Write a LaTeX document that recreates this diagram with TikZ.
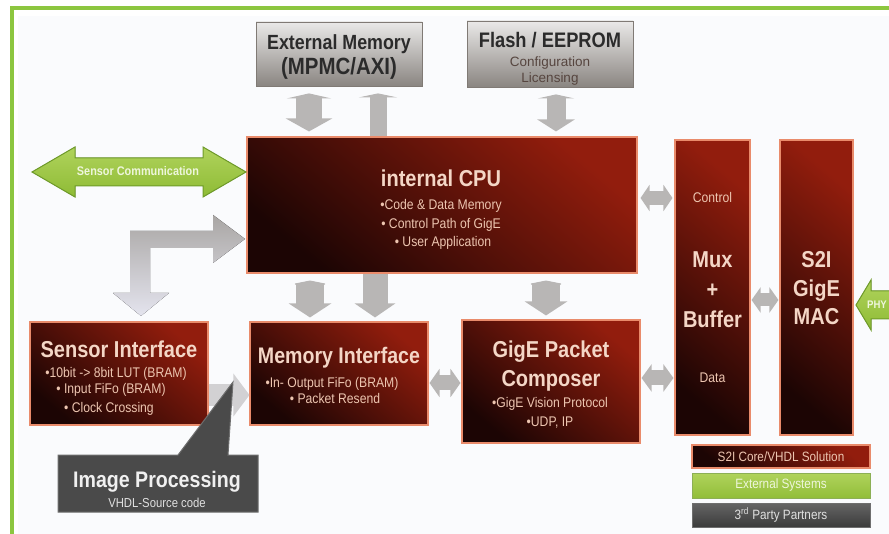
\documentclass[tikz,border=0pt]{standalone}
\usepackage{fontspec}
\setmainfont{Liberation Sans}
\newfontfamily\cf[FakeStretch=0.87]{Liberation Sans}
\usetikzlibrary{arrows.meta,calc}
\definecolor{frameg}{HTML}{8CC63F}
\definecolor{bgin}{HTML}{FAFBFD}
\definecolor{rdark}{HTML}{1C0504}
\definecolor{rmid}{HTML}{7A170B}
\definecolor{rred}{HTML}{921D0D}
\definecolor{rborder}{HTML}{E98B6B}
\definecolor{ttlc}{HTML}{F4D6C6}
\definecolor{bulc}{HTML}{EDC5B0}
\definecolor{glight}{HTML}{EAE9E8}
\definecolor{gdark}{HTML}{8A8581}
\definecolor{gborder}{HTML}{807A75}
\definecolor{gtext}{HTML}{2B2B2B}
\definecolor{gsubc}{HTML}{56453F}
\definecolor{arrowg}{HTML}{B8B6B5}
\definecolor{arrowl}{HTML}{D2D1D3}
\definecolor{lgtop}{HTML}{A9A6A4}
\definecolor{lgbot}{HTML}{E4E4EE}
\definecolor{greenA}{HTML}{B0D35C}
\definecolor{greenB}{HTML}{8EBB35}
\definecolor{greenD}{HTML}{6F9B2A}
\definecolor{greentxt}{HTML}{EEF6DC}
\definecolor{darkbox}{HTML}{4A4A4A}
\definecolor{darkedge}{HTML}{6E6E6E}
\begin{document}
\begin{tikzpicture}[x=1pt,y=-1pt,
  redbox/.style={draw=rborder, line width=1.1pt, left color=rdark, middle color=rmid, right color=rred, shading angle=140, inner sep=0pt},
  graybox/.style={draw=gborder, line width=0.8pt, top color=glight, bottom color=gdark, inner sep=0pt},
  ttl/.style={font=\cf\bfseries\fontsize{23}{23}\selectfont, text=ttlc, anchor=base, inner sep=0pt},
  bul/.style={font=\cf\fontsize{14}{14}\selectfont, text=bulc, anchor=base, inner sep=0pt},
  gttl/.style={font=\cf\bfseries\fontsize{21}{21}\selectfont, text=gtext, anchor=base, inner sep=0pt},
  gsub/.style={font=\fontsize{13.5}{13.5}\selectfont, text=gsubc, anchor=base, inner sep=0pt},
  garrow/.style={draw=arrowg, line width=#1},
]
\useasboundingbox (0,0) rectangle (889,534);
\fill[white] (0,0) rectangle (889,534);
\fill[bgin] (18,16) rectangle (889,534);
\draw[frameg, line width=3.6pt] (12,534) -- (12,8) -- (889,8);

% ---------- boxes ----------
\node[graybox, minimum width=166, minimum height=64] (extmem) at (339,54) {};
\node[graybox, minimum width=166, minimum height=66] (flash) at (550,54) {};
\node[redbox, minimum width=390, minimum height=136] (cpu) at (442,205) {};
\node[redbox, minimum width=178, minimum height=103] (sensif) at (119,373.5) {};
\node[redbox, minimum width=178, minimum height=103] (memif) at (339,373.5) {};
\node[redbox, minimum width=178, minimum height=123] (gige) at (551,381.5) {};
\node[redbox, minimum width=75, minimum height=295] (mux) at (712.5,287.5) {};
\node[redbox, minimum width=73, minimum height=295] (mac) at (816.5,287.5) {};

% ---------- texts ----------
\node[gttl, font=\cf\bfseries\fontsize{20.5}{20.5}\selectfont] (extmemt1) at (339,50) {External Memory};
\node[gttl, font=\cf\bfseries\fontsize{23.5}{23.5}\selectfont] (extmemt2) at (339,75) {(MPMC/AXI)};
\node[gttl] (flasht) at (550,48) {Flash / EEPROM};
\node[gsub] (flashc) at (550,67) {Configuration};
\node[gsub] (flashl) at (550,83) {Licensing};

\node[ttl] (cput) at (441,187) {internal CPU};
\node[bul] (cpub1) at (441,210) {•Code \& Data Memory};
\node[bul] (cpub2) at (441,229) {• Control Path of GigE};
\node[bul] (cpub3) at (443,247) {• User Application};

\node[ttl] (sensift) at (119,358) {Sensor Interface};
\node[bul] (sensifb1) at (116,378) {•10bit -> 8bit LUT (BRAM)};
\node[bul] (sensifb2) at (111,394) {• Input FiFo (BRAM)};
\node[bul] (sensifb3) at (109,413) {• Clock Crossing};

\node[ttl, font=\cf\bfseries\fontsize{22.5}{22.5}\selectfont] (memift) at (339,364) {Memory Interface};
\node[bul] (memifb1) at (332,388) {•In- Output FiFo (BRAM)};
\node[bul] (memifb2) at (335,404) {• Packet Resend};

\node[ttl] (giget1) at (551,358) {GigE Packet};
\node[ttl] (giget2) at (551,387) {Composer};
\node[bul] (gigeb1) at (550,408) {•GigE Vision Protocol};
\node[bul] (gigeb2) at (550,427) {•UDP, IP};

\node[bul] (muxc) at (712.5,203) {Control};
\node[ttl] (muxt1) at (712.5,268) {Mux};
\node[ttl] (muxt2) at (712.5,298) {+};
\node[ttl] (muxt3) at (712.5,328) {Buffer};
\node[bul] (muxd) at (712.5,383) {Data};

\node[ttl] (mact1) at (816.5,268) {S2I};
\node[ttl] (mact2) at (816.5,297) {GigE};
\node[ttl] (mact3) at (816.5,325) {MAC};

% ---------- gray connectors ----------
\coordinate (xa) at (309,0);
\coordinate (xb) at (378,0);
\coordinate (xc) at (556,0);
\coordinate (xd) at (310,0);
\coordinate (xe) at (375,0);
\coordinate (xf) at (546,0);
\coordinate (ya) at (0,198);
\coordinate (yb) at (0,383);
\coordinate (yc) at (0,378);
\coordinate (yd) at (0,300);
\coordinate (ye) at (0,395);

\draw[garrow=26pt, {Triangle[length=5pt,width=44pt]}-{Triangle[length=13pt,width=46pt]}, shorten <=7pt, shorten >=5pt] (xa |- extmem.south) -- (xa |- cpu.north);
\draw[garrow=17pt, -{Triangle[length=4pt,width=38pt]}, shorten >=7pt] (xb |- cpu.north) -- (xb |- extmem.south);
\draw[garrow=19pt, {Triangle[length=4pt,width=36pt]}-{Triangle[length=12pt,width=37pt]}, shorten <=7pt, shorten >=5pt] (xc |- flash.south) -- (xc |- cpu.north);
\draw[garrow=28pt, {Triangle[length=4pt,width=40pt]}-{Triangle[length=14pt,width=42pt]}, shorten <=7pt, shorten >=4pt] (xd |- cpu.south) -- (xd |- memif.north);
\draw[garrow=25pt, -{Triangle[length=14pt,width=40pt]}, shorten >=4pt] (xe |- cpu.south) -- (xe |- memif.north);
\draw[garrow=28pt, {Triangle[length=4pt,width=40pt]}-{Triangle[length=14pt,width=42pt]}, shorten <=7pt, shorten >=4pt] (xf |- cpu.south) -- (xf |- gige.north);

\draw[garrow=14pt, {Triangle[length=9pt,width=26pt]}-{Triangle[length=9pt,width=26pt]}, shorten <=3pt, shorten >=2pt] (cpu.east |- ya) -- (mux.west |- ya);
\draw[garrow=15pt, {Triangle[length=10pt,width=28pt]}-{Triangle[length=10pt,width=28pt]}, shorten <=1pt, shorten >=1pt] (memif.east |- yb) -- (gige.west |- yb);
\draw[garrow=15pt, {Triangle[length=10pt,width=27pt]}-{Triangle[length=10pt,width=27pt]}, shorten <=1pt, shorten >=1pt] (gige.east |- yc) -- (mux.west |- yc);
\draw[garrow=13pt, {Triangle[length=9pt,width=25pt]}-{Triangle[length=9pt,width=25pt]}, shorten <=1pt, shorten >=1pt] (mux.east |- yd) -- (mac.west |- yd);
\draw[garrow=22pt, draw=arrowl, -{Triangle[length=16pt,width=42pt]}] (sensif.east |- ye) -- (memif.west |- ye);

% L-shaped arrow between CPU and sensor interface
\fill[top color=lgtop, bottom color=lgbot] (245,239) -- (213,215) -- (213,231) -- (130,231) -- (130,293) -- (113,293) -- (141,316) -- (169,293) -- (150,293) -- (150,248) -- (213,248) -- (213,263) -- cycle;

% green sensor communication arrow
\filldraw[draw=greenD, line width=1pt, top color=greenA, bottom color=greenB] (32,172) -- (75,147) -- (75,158) -- (203,158) -- (203,147) -- (246,172) -- (203,197) -- (203,186) -- (75,186) -- (75,197) -- cycle;
\node[font=\cf\bfseries\fontsize{12.5}{12.5}\selectfont, text=greentxt, anchor=base, inner sep=0pt] (senscom) at (138,176) {Sensor Communication};

% PHY arrow
\filldraw[draw=greenD, line width=1pt, top color=greenA, bottom color=greenB] (889,291) -- (871,291) -- (871,280) -- (856,305) -- (871,330) -- (871,319) -- (889,319);
\node[font=\cf\bfseries\fontsize{11}{11}\selectfont, text=greentxt, anchor=base, inner sep=0pt] (phy) at (877,309) {PHY};

% Image Processing callout
\filldraw[fill=darkbox, draw=darkedge, line width=1pt] (58,455) -- (178,455) -- (233,382) -- (228,455) -- (258,455) -- (258,512) -- (58,512) -- cycle;
\node[font=\cf\bfseries\fontsize{22.5}{22.5}\selectfont, text=white!94!black, anchor=base, inner sep=0pt] (imgp) at (157,487) {Image Processing};
\node[font=\cf\fontsize{13}{13}\selectfont, text=white!88!black, anchor=base, inner sep=0pt] (imgps) at (157,507) {VHDL-Source code};

% legend
\node[redbox, minimum width=178, minimum height=23, font=\cf\fontsize{13.5}{13.5}\selectfont, text=bulc] (leg1) at (781,456.5) {S2I Core/VHDL Solution};
\node[draw=greenD!80, line width=1pt, top color=greenA, bottom color=greenB!90!greenA, minimum width=178, minimum height=25, inner sep=0pt, font=\cf\fontsize{13.5}{13.5}\selectfont, text=greentxt] (leg2) at (781,485.5) {External Systems};
\node[draw=darkedge, line width=1pt, top color=darkbox!85!white, bottom color=darkbox!80!black, minimum width=178, minimum height=24, inner sep=0pt, font=\cf\fontsize{13.5}{13.5}\selectfont, text=white!88!black] (leg3) at (781,515) {3\textsuperscript{rd} Party Partners};
\end{tikzpicture}
\end{document}
